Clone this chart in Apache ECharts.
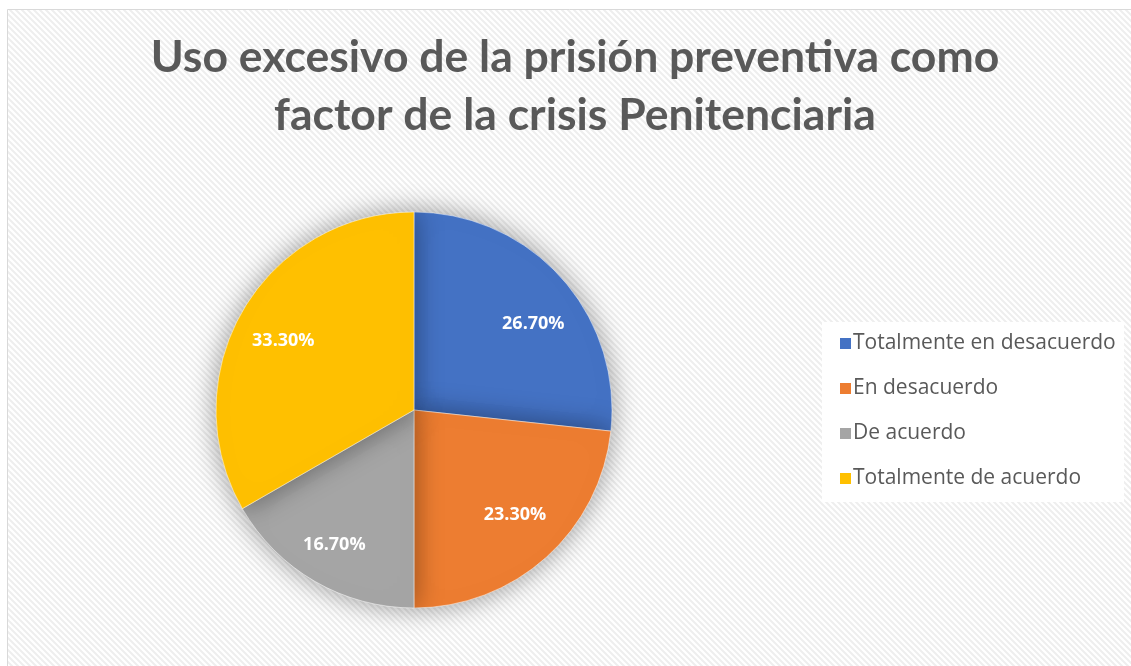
<!DOCTYPE html>
<html>
<head>
<meta charset="utf-8">
<script src="https://cdn.jsdelivr.net/npm/echarts@6/dist/echarts.min.js"></script>
<style>
  html, body { margin: 0; padding: 0; background: #fff; }
  #chart { width: 1131px; height: 666px; }
</style>
</head>
<body>
<div id="chart"></div>
<script>
// datos
var categorias = ['Totalmente en desacuerdo', 'En desacuerdo', 'De acuerdo', 'Totalmente de acuerdo'];
var valores = [26.7, 23.3, 16.7, 33.3];
var colores = ['#4472C4', '#ED7D31', '#A5A5A5', '#FFC000'];
var titulo = 'Uso excesivo de la prisión preventiva como\nfactor de la crisis Penitenciaria';

// desplazamiento de cada etiqueta (como las pone Excel)
var desplazaEtiquetas = [[7, 15], [0, -7], [-4, 4], [0, 7]];

// fondo rayado diagonal
var tile = document.createElement('canvas');
tile.width = 6; tile.height = 6;
var ctx = tile.getContext('2d');
ctx.fillStyle = '#ffffff';
ctx.fillRect(0, 0, 6, 6);
ctx.strokeStyle = '#eeeeee';
ctx.lineWidth = 2;
ctx.beginPath();
ctx.moveTo(-1, -1); ctx.lineTo(7, 7);
ctx.moveTo(-7, -1); ctx.lineTo(1, 7);
ctx.moveTo(5, -1); ctx.lineTo(13, 7);
ctx.stroke();

var datos = categorias.map(function (c, i) {
    return { name: c, value: valores[i], itemStyle: { color: colores[i] } };
});

var myChart = echarts.init(document.getElementById('chart'));
var option = {
    backgroundColor: '#ffffff',
    animation: false,
    graphic: [{
        type: 'rect',
        z: -10,
        shape: { x: 7.5, y: 9.5, width: 1140, height: 670 },
        style: { fill: { image: tile, repeat: 'repeat' }, stroke: '#d9d9d9', lineWidth: 1 }
    }, {
        type: 'rect',
        z: -5,
        shape: { x: 822, y: 322, width: 302, height: 180 },
        style: { fill: '#ffffff' }
    }],
    title: {
        text: titulo,
        left: 575,
        top: 29,
        padding: 0,
        textAlign: 'center',
        textStyle: {
            fontFamily: 'Lato',
            fontWeight: 'bold',
            fontSize: 44.5,
            lineHeight: 58,
            color: '#595959'
        }
    },
    legend: {
        orient: 'vertical',
        left: 833,
        top: 328,
        itemWidth: 13,
        itemHeight: 13,
        itemGap: 24,
        icon: 'rect',
        data: categorias,
        textStyle: { fontFamily: 'Open Sans', fontSize: 21, color: '#595959', padding: [0, 0, 0, -4] }
    },
    series: [{
        type: 'pie',
        center: [414, 410],
        radius: [0, 198],
        startAngle: 90,
        clockwise: true,
        data: datos,
        label: { show: false },
        labelLine: { show: false },
        itemStyle: {
            borderColor: '#ffffff',
            borderWidth: 0.5,
            shadowBlur: 28,
            shadowColor: 'rgba(0,0,0,0.4)'
        },
        emphasis: { disabled: true }
    }, {
        // serie invisible solo para ubicar las etiquetas
        type: 'pie',
        center: [414, 410],
        radius: [0, 296],
        startAngle: 90,
        clockwise: true,
        silent: true,
        data: valores.map(function (v, i) {
            return {
                name: categorias[i], value: v,
                itemStyle: { color: 'rgba(0,0,0,0)' },
                label: { offset: desplazaEtiquetas[i] }
            };
        }),
        label: {
            position: 'inside',
            formatter: function (p) { return p.value.toFixed(2) + '%'; },
            fontFamily: 'Open Sans',
            fontWeight: 'bold',
            fontSize: 18,
            color: '#ffffff'
        },
        labelLine: { show: false },
        emphasis: { disabled: true }
    }]
};
myChart.setOption(option);
</script>
</body>
</html>
